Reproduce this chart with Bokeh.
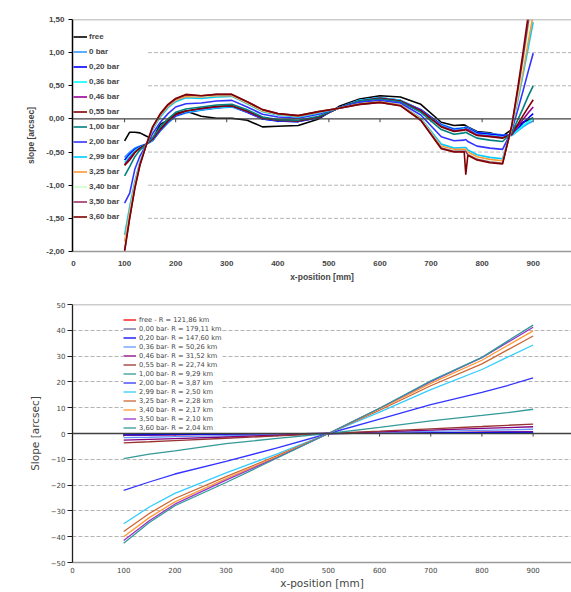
from bokeh.plotting import figure
from bokeh.models import Legend, LegendItem, Span, FixedTicker, Range1d
from bokeh.layouts import column
from bokeh.embed import file_html
from bokeh.resources import INLINE

# ---------------- top chart data ----------------
x_top = [100, 110, 120, 130, 143, 155, 170, 185, 200, 220, 250, 280, 310, 340, 370, 400, 440, 480,
         520, 560, 600, 640, 680, 720, 745, 765, 768, 772, 790, 815, 840, 858, 870, 880, 890, 900]

free = [-0.33, -0.20, -0.20, -0.21, -0.26, -0.30, -0.08, -0.02, 0.08, 0.12, 0.04, 0.01, 0.01, -0.02, -0.12, -0.11, -0.10, 0.00,
        0.19, 0.30, 0.35, 0.33, 0.22, -0.05, -0.10, -0.09, -0.10, -0.12, -0.19, -0.21, -0.26, -0.16, -0.10, -0.05, -0.02, 0.02]
bar_000 = [-0.58, -0.50, -0.44, -0.41, -0.38, -0.33, -0.18, -0.06, 0.04, 0.09, 0.13, 0.16, 0.18, 0.10, 0.00, -0.03, -0.04, 0.02,
           0.17, 0.28, 0.32, 0.28, 0.14, -0.08, -0.15, -0.13, -0.12, -0.13, -0.20, -0.22, -0.24, -0.25, -0.18, -0.12, -0.07, -0.03]
bar_020 = [-0.62, -0.53, -0.46, -0.42, -0.38, -0.32, -0.17, -0.05, 0.05, 0.10, 0.14, 0.17, 0.19, 0.10, 0.00, -0.03, -0.04, 0.02,
           0.17, 0.28, 0.32, 0.28, 0.14, -0.09, -0.16, -0.14, -0.13, -0.14, -0.21, -0.23, -0.25, -0.24, -0.15, -0.06, 0.01, 0.08]
bar_036 = [-0.66, -0.56, -0.48, -0.43, -0.38, -0.32, -0.16, -0.04, 0.06, 0.11, 0.14, 0.17, 0.19, 0.11, 0.01, -0.02, -0.03, 0.03,
           0.17, 0.28, 0.32, 0.28, 0.13, -0.10, -0.17, -0.15, -0.14, -0.15, -0.23, -0.25, -0.27, -0.25, -0.17, -0.10, -0.04, 0.01]
bar_046 = [-0.69, -0.59, -0.50, -0.44, -0.38, -0.31, -0.16, -0.03, 0.06, 0.12, 0.15, 0.18, 0.20, 0.11, 0.01, -0.02, -0.03, 0.03,
           0.17, 0.27, 0.31, 0.27, 0.13, -0.11, -0.18, -0.16, -0.15, -0.16, -0.24, -0.26, -0.28, -0.24, -0.11, -0.01, 0.09, 0.18]
bar_055 = [-0.70, -0.62, -0.51, -0.44, -0.38, -0.30, -0.15, -0.03, 0.07, 0.12, 0.16, 0.19, 0.20, 0.12, 0.02, -0.02, -0.03, 0.03,
           0.17, 0.27, 0.31, 0.27, 0.12, -0.12, -0.19, -0.17, -0.16, -0.18, -0.25, -0.27, -0.29, -0.23, -0.08, 0.05, 0.17, 0.29]
bar_100 = [-0.86, -0.72, -0.57, -0.47, -0.38, -0.28, -0.12, 0.00, 0.10, 0.15, 0.18, 0.21, 0.22, 0.14, 0.03, -0.01, -0.02, 0.04,
           0.17, 0.27, 0.30, 0.26, 0.10, -0.16, -0.23, -0.21, -0.20, -0.22, -0.29, -0.32, -0.34, -0.21, -0.01, 0.16, 0.34, 0.50]
bar_200 = [-1.27, -1.12, -0.76, -0.56, -0.38, -0.22, -0.05, 0.08, 0.18, 0.23, 0.24, 0.27, 0.28, 0.18, 0.07, 0.03, 0.01, 0.07,
           0.17, 0.25, 0.28, 0.24, 0.06, -0.27, -0.33, -0.32, -0.31, -0.34, -0.41, -0.44, -0.46, -0.18, 0.14, 0.42, 0.71, 0.99]
bar_299 = [-1.75, -1.32, -0.94, -0.65, -0.38, -0.16, 0.03, 0.17, 0.26, 0.32, 0.31, 0.33, 0.34, 0.23, 0.11, 0.06, 0.03, 0.09,
           0.16, 0.23, 0.26, 0.21, 0.01, -0.38, -0.44, -0.43, -0.43, -0.47, -0.54, -0.58, -0.60, -0.14, 0.28, 0.66, 1.06, 1.46]
bar_325 = [-1.85, -1.39, -0.98, -0.67, -0.38, -0.14, 0.05, 0.19, 0.28, 0.34, 0.33, 0.35, 0.35, 0.24, 0.12, 0.07, 0.04, 0.10,
           0.16, 0.23, 0.26, 0.21, 0.00, -0.41, -0.46, -0.46, -0.46, -0.50, -0.57, -0.61, -0.63, -0.14, 0.32, 0.72, 1.15, 1.57]
bar_340 = [-1.94, -1.45, -1.02, -0.69, -0.38, -0.13, 0.07, 0.21, 0.30, 0.36, 0.34, 0.36, 0.36, 0.25, 0.13, 0.07, 0.05, 0.11,
           0.16, 0.22, 0.25, 0.20, -0.01, -0.43, -0.48, -0.48, -0.48, -0.53, -0.60, -0.64, -0.66, -0.12, 0.38, 0.83, 1.31, 1.78]
bar_350 = [-1.98, -1.48, -1.04, -0.69, -0.38, -0.12, 0.07, 0.21, 0.30, 0.36, 0.35, 0.37, 0.37, 0.26, 0.14, 0.08, 0.05, 0.11,
           0.16, 0.22, 0.25, 0.20, -0.02, -0.44, -0.49, -0.49, -0.49, -0.54, -0.61, -0.65, -0.67, -0.11, 0.43, 0.92, 1.44, 1.95]
bar_360 = [-2.00, -1.50, -1.05, -0.70, -0.38, -0.12, 0.08, 0.22, 0.31, 0.37, 0.35, 0.37, 0.37, 0.26, 0.14, 0.08, 0.05, 0.11,
           0.16, 0.22, 0.25, 0.20, -0.02, -0.45, -0.50, -0.50, -0.84, -0.55, -0.62, -0.66, -0.68, -0.10, 0.48, 1.00, 1.55, 2.10]

top_labels = ["free", "0 bar", "0,20 bar", "0,36 bar", "0,46 bar", "0,55 bar", "1,00 bar",
              "2,00 bar", "2,99 bar", "3,25 bar", "3,40 bar", "3,50 bar", "3,60 bar"]
top_series = [free, bar_000, bar_020, bar_036, bar_046, bar_055, bar_100,
              bar_200, bar_299, bar_325, bar_340, bar_350, bar_360]
top_colors = ["#000000", "#3399ff", "#0000ff", "#00ffff", "#990099", "#800000", "#008080",
              "#3333ff", "#00ccff", "#ff9933", "#ccffcc", "#993366", "#800000"]

top_y_ticks = [-2.0, -1.5, -1.0, -0.5, 0.0, 0.5, 1.0, 1.5]
top_y_labels = ["-2,00", "-1,50", "-1,00", "-0,50", "0,00", "0,50", "1,00", "1,50"]
top_grid = [-1.5, -1.0, -0.5, 0.5, 1.0]
x_ticks = [0, 100, 200, 300, 400, 500, 600, 700, 800, 900]

# ---------------- bottom chart data ----------------
x_bot = [100, 150, 200, 300, 400, 500, 600, 700, 800, 850, 900]
b_free = [-0.7, -0.6, -0.5, -0.35, -0.18, 0.0, 0.17, 0.34, 0.5, 0.59, 0.68]
b_000 = [-0.5, -0.42, -0.35, -0.24, -0.12, 0.0, 0.12, 0.23, 0.35, 0.4, 0.46]
b_020 = [-0.55, -0.49, -0.42, -0.28, -0.14, 0.0, 0.14, 0.28, 0.42, 0.49, 0.56]
b_036 = [-1.6, -1.45, -1.25, -0.85, -0.42, 0.0, 0.42, 0.83, 1.25, 1.44, 1.64]
b_046 = [-2.6, -2.3, -2.0, -1.35, -0.67, 0.0, 0.66, 1.32, 1.97, 2.3, 2.62]
b_055 = [-3.6, -3.2, -2.75, -1.85, -0.93, 0.0, 0.91, 1.83, 2.72, 3.18, 3.63]
b_100 = [-9.7, -8.0, -6.7, -3.9, -1.9, 0.0, 2.4, 4.9, 7.0, 8.1, 9.4]
b_200 = [-22.0, -18.8, -15.7, -10.8, -5.6, 0.0, 5.6, 11.2, 15.9, 18.6, 21.6]
b_299 = [-35.0, -28.5, -23.2, -15.3, -7.9, 0.0, 8.3, 17.0, 24.8, 29.6, 34.3]
b_325 = [-38.0, -31.0, -25.2, -16.7, -8.6, 0.0, 9.0, 18.5, 27.0, 32.4, 37.8]
b_340 = [-40.0, -32.6, -26.5, -17.5, -9.0, 0.0, 9.5, 19.4, 28.4, 34.1, 39.8]
b_350 = [-41.5, -33.8, -27.4, -18.1, -9.3, 0.0, 9.8, 20.1, 29.4, 35.3, 41.2]
b_360 = [-42.5, -34.5, -28.0, -19.0, -9.5, 0.0, 9.8, 20.4, 29.5, 35.8, 42.0]

bot_labels = ["free - R = 121,86 km", "0,00 bar- R = 179,11 km", "0,20 bar- R = 147,60 km",
              "0,36 bar- R = 50,26 km", "0,46 bar- R = 31,52 km", "0,55 bar- R = 22,74 km",
              "1,00 bar- R = 9,29 km", "2,00 bar- R = 3,87 km", "2,99 bar- R = 2,50 km",
              "3,25 bar- R = 2,28 km", "3,40 bar- R = 2,17 km", "3,50 bar- R = 2,10 km",
              "3,60 bar- R = 2,04 km"]
bot_series = [b_free, b_000, b_020, b_036, b_046, b_055, b_100, b_200, b_299, b_325, b_340, b_350, b_360]
bot_colors = ["#ff0000", "#666699", "#0000ff", "#6699ff", "#800080", "#993333", "#339999",
              "#3333ff", "#33ccff", "#cc6633", "#ff9933", "#9933cc", "#339999"]

bot_y_ticks = [-50, -40, -30, -20, -10, 0, 10, 20, 30, 40, 50]
bot_grid = [-40, -30, -20, -10, 10, 20, 30, 40]

TOPFONT = "Liberation Sans"
BOTFONT = "DejaVu Sans"
GRID_START_TOP = 146   # gridlines of the upper chart start right of its legend

# ================= top figure =================
X_END = 975
p1 = figure(width=571, height=290, x_range=Range1d(-2, X_END), y_range=Range1d(-2.0, 1.5),
            output_backend="svg", toolbar_location=None,
            min_border_left=71, min_border_right=0, min_border_top=19, min_border_bottom=39)
p1.outline_line_color = None
p1.background_fill_color = "white"
p1.border_fill_color = "white"
p1.xgrid.visible = False
p1.ygrid.visible = False

# dashed gridlines (drawn as segments so they start right of the legend)
p1.segment(x0=[GRID_START_TOP] * len(top_grid), y0=top_grid, x1=[X_END] * len(top_grid), y1=top_grid,
           line_color="#b4b4b4", line_width=1, line_dash="4 2")

xa = p1.xaxis[0]
xa.ticker = FixedTicker(ticks=x_ticks)
xa.axis_line_color = "#9a9a9a"
xa.axis_line_width = 1.5
xa.major_tick_line_color = None
xa.minor_tick_line_color = None
xa.major_tick_out = 0
xa.major_label_standoff = 9
xa.major_label_text_font = TOPFONT
xa.major_label_text_font_style = "bold"
xa.major_label_text_font_size = "8px"
xa.axis_label = "x-position [mm]"
xa.axis_label_text_font = TOPFONT
xa.axis_label_text_font_style = "bold"
xa.axis_label_text_font_size = "8.5px"
xa.axis_label_standoff = 3

ya = p1.yaxis[0]
ya.ticker = FixedTicker(ticks=top_y_ticks)
ya.major_label_overrides = {t: l for t, l in zip(top_y_ticks, top_y_labels)}
ya.axis_line_color = "black"
ya.axis_line_width = 1.5
ya.major_tick_line_color = "black"
ya.major_tick_out = 4
ya.major_tick_in = 0
ya.minor_tick_line_color = None
ya.major_label_standoff = 4
ya.major_label_text_font = TOPFONT
ya.major_label_text_font_style = "bold"
ya.major_label_text_font_size = "8px"
ya.axis_label = "slope [arcsec]"
ya.axis_label_text_font = TOPFONT
ya.axis_label_text_font_style = "bold"
ya.axis_label_text_font_size = "8.5px"
ya.axis_label_standoff = 7

p1.add_layout(Span(location=top_y_ticks[-1], dimension="width", line_color="#9a9a9a", line_width=1.5))
p1.add_layout(Span(location=0, dimension="width", line_color="#404040", line_width=1.3))
tick_x1 = x_ticks[1:]
p1.segment(x0=tick_x1, y0=[0] * len(tick_x1), x1=tick_x1, y1=[-0.05] * len(tick_x1),
           line_color="#404040", line_width=1)

items1 = []
for lab, ys, col in zip(top_labels, top_series, top_colors):
    r = p1.line(x_top, ys, line_color=col, line_width=1.6)
    items1.append(LegendItem(label=lab, renderers=[r]))

leg1 = Legend(items=items1, location=(1, 27), orientation="vertical",
              glyph_width=14, glyph_height=15, label_height=15, spacing=0,
              padding=0, margin=0, label_standoff=2,
              label_text_font=TOPFONT, label_text_font_style="bold", label_text_font_size="8px",
              border_line_color=None, background_fill_alpha=0.0)
p1.add_layout(leg1)

# ================= bottom figure =================
p2 = figure(width=571, height=301, x_range=Range1d(0, X_END), y_range=Range1d(-50, 50),
            output_backend="svg", toolbar_location=None,
            min_border_left=72, min_border_right=0, min_border_top=14, min_border_bottom=29)
p2.outline_line_color = None
p2.background_fill_color = "white"
p2.border_fill_color = "white"

p2.xgrid.visible = False
p2.ygrid.ticker = FixedTicker(ticks=bot_grid)
p2.ygrid.grid_line_color = "#b4b4b4"
p2.ygrid.grid_line_dash = "4 2"

xb = p2.xaxis[0]
xb.ticker = FixedTicker(ticks=x_ticks)
xb.axis_line_color = "#9a9a9a"
xb.axis_line_width = 1.5
xb.major_tick_line_color = None
xb.minor_tick_line_color = None
xb.major_tick_out = 0
xb.major_label_standoff = 4
xb.major_label_text_font = BOTFONT
xb.major_label_text_font_size = "7px"
xb.axis_label = "x-position [mm]"
xb.axis_label_text_font = BOTFONT
xb.axis_label_text_font_style = "normal"
xb.axis_label_text_font_size = "10.5px"
xb.axis_label_standoff = 1

yb = p2.yaxis[0]
yb.ticker = FixedTicker(ticks=bot_y_ticks)
yb.axis_line_color = "#202020"
yb.axis_line_width = 1.3
yb.major_tick_line_color = "#202020"
yb.major_tick_out = 5
yb.major_tick_in = 0
yb.minor_tick_line_color = None
yb.major_label_standoff = 2
yb.major_label_text_font = BOTFONT
yb.major_label_text_font_size = "7px"
yb.axis_label = "Slope [arcsec]"
yb.axis_label_text_font = BOTFONT
yb.axis_label_text_font_style = "normal"
yb.axis_label_text_font_size = "10.5px"
yb.axis_label_standoff = 7

p2.add_layout(Span(location=bot_y_ticks[-1], dimension="width", line_color="#9a9a9a", line_width=1.5))
p2.add_layout(Span(location=0, dimension="width", line_color="#404040", line_width=1.3))
p2.segment(x0=tick_x1, y0=[0] * len(tick_x1), x1=tick_x1, y1=[-1.2] * len(tick_x1),
           line_color="#404040", line_width=1)

items2 = []
for lab, ys, col in zip(bot_labels, bot_series, bot_colors):
    r = p2.line(x_bot, ys, line_color=col, line_width=1.3)
    items2.append(LegendItem(label=lab, renderers=[r]))

leg2 = Legend(items=items2, location=(51, 130), orientation="vertical",
              glyph_width=13, glyph_height=9, label_height=9, spacing=0,
              padding=3, margin=0, label_standoff=3,
              label_text_font=BOTFONT, label_text_font_size="6.7px",
              border_line_color=None, background_fill_color="white", background_fill_alpha=1.0)
p2.add_layout(leg2)

layout = column(p1, p2, spacing=0)
open("out.html", "w").write(file_html(layout, INLINE))
